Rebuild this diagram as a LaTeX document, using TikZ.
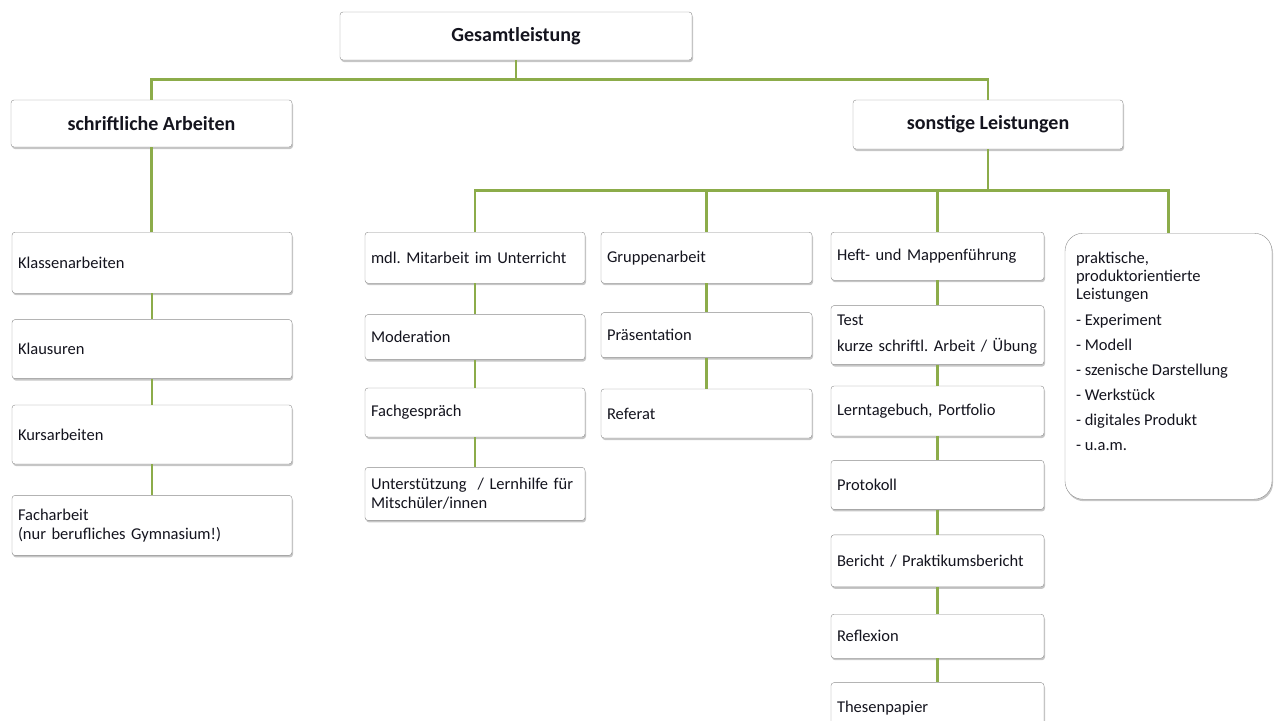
\documentclass[tikz,border=0pt]{standalone}
\usepackage{fontspec}
\setmainfont{Carlito}
\frenchspacing
\usetikzlibrary{positioning,shadows}
\definecolor{gruen}{RGB}{140,172,74}
\definecolor{rand}{RGB}{140,140,140}
\definecolor{schrift}{RGB}{20,20,30}

\tikzset{
  box/.style={draw=rand, fill=white, rounded corners=3pt, text=schrift,
    drop shadow={opacity=0.45,shadow xshift=1pt,shadow yshift=-2pt},
    align=left, inner xsep=6pt, inner ysep=0pt, font=\fontsize{16.5}{19}\selectfont},
  head/.style={box, align=center, font=\bfseries\fontsize{20}{24}\selectfont},
  colA/.style={box, text width=268pt},
  colB/.style={box, text width=208pt},
  colC/.style={box, text width=199pt},
  colD/.style={box, text width=201pt},
  link/.style={draw=gruen, line width=2.6pt}
}

\begin{document}
\begin{tikzpicture}[x=1pt,y=-1pt]
  \useasboundingbox (0,0) rectangle (1274,720);
  \clip (0,0) rectangle (1274,720);

  \node[head, minimum width=352pt, minimum height=48pt] (gesamt) at (516,36) {Gesamtleistung};
  \node[head, minimum width=281pt, minimum height=47pt] (schriftl) at (151.5,123.5) {schriftliche Arbeiten};
  \node[head, minimum width=270pt, minimum height=49pt] (sonst) at (988,124.5) {sonstige Leistungen};

  \node[colA, minimum height=61pt, anchor=north] (s1) at (152,232) {Klassenarbeiten};
  \node[colA, minimum height=59pt, below=26pt of s1] (s2) {Klausuren};
  \node[colA, minimum height=59pt, below=26pt of s2] (s3) {Kursarbeiten};
  \node[colA, minimum height=60pt, below=31pt of s3] (s4) {Facharbeit\\(nur berufliches Gymnasium!)};

  \node[colB, minimum height=51pt, anchor=north] (m1) at (475,232) {mdl. Mitarbeit im Unterricht};
  \node[colB, minimum height=45pt, below=31pt of m1] (m2) {Moderation};
  \node[colB, minimum height=49pt, below=28pt of m2] (m3) {Fachgespräch};
  \node[colB, minimum height=53pt, below=30pt of m3] (m4) {Unterstützung~ / Lernhilfe für\\Mitschüler/innen};

  \node[colC, minimum height=51pt, anchor=north] (g1) at (706.5,232) {Gruppenarbeit};
  \node[colC, minimum height=45pt, below=29pt of g1] (g2) {Präsentation};
  \node[colC, minimum height=49pt, below=31pt of g2] (g3) {Referat};

  \node[colD, minimum height=48pt, anchor=north] (h1) at (937.5,232) {Heft- und Mappenführung};
  \node[colD, minimum height=59pt, below=25pt of h1] (h2) {Test\\[7pt]kurze schriftl. Arbeit / Übung};
  \node[colD, minimum height=50pt, below=21pt of h2] (h3) {Lerntagebuch, Portfolio};
  \node[colD, minimum height=49pt, below=24pt of h3] (h4) {Protokoll};
  \node[colD, minimum height=52pt, below=25pt of h4] (h5) {Bericht / Praktikumsbericht};
  \node[colD, minimum height=44pt, below=27pt of h5] (h6) {Reflexion};
  \node[colD, minimum height=50pt, below=24pt of h6] (h7) {Thesenpapier};

  \node[box, rounded corners=18pt, inner xsep=11pt, anchor=north] (prak) at (1168.5,233)
    {\parbox[c][266pt][t]{185pt}{\baselineskip=18pt\rule{0pt}{30pt}praktische,\\produktorientierte\\Leistungen\\[8pt]- Experiment\\[7pt]- Modell\\[7pt]- szenische Darstellung\\[7pt]- Werkstück\\[7pt]- digitales Produkt\\[7pt]- u.a.m.}};

  \draw[link] (gesamt.south) -- ++(0,19) -| (schriftl.north);
  \draw[link] (gesamt.south) -- ++(0,19) -| (sonst.north);
  \draw[link] (schriftl.south) -- (schriftl.south |- s1.north);
  \foreach \top in {m1,g1,h1,prak}
    \draw[link] (sonst.south) -- ++(0,41) -| (\top.north);
  \foreach \a/\b in {s1/s2,s2/s3,s3/s4,m1/m2,m2/m3,m3/m4,g1/g2,g2/g3,h1/h2,h2/h3,h3/h4,h4/h5,h5/h6,h6/h7}
    \draw[link] (\a.south) -- (\b.north);
\end{tikzpicture}
\end{document}
